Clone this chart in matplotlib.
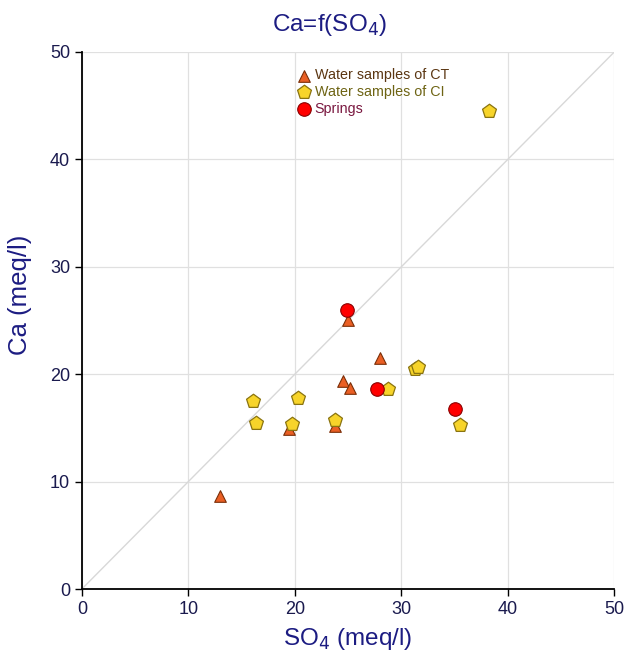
import numpy as np
import matplotlib.pyplot as plt

plt.rcParams['font.family'] = ['Liberation Sans', 'DejaVu Sans']

# CT water samples (triangles)
ct_so4 = [13.0, 19.45, 23.8, 24.5, 25.2, 25.0, 27.95]
ct_ca = [8.7, 14.9, 15.2, 19.4, 18.7, 25.0, 21.5]

# CI water samples (pentagons)
ci_so4 = [16.1, 16.35, 19.7, 20.25, 23.8, 28.7, 31.3, 31.55, 35.5, 38.2]
ci_ca = [17.5, 15.5, 15.4, 17.75, 15.7, 18.6, 20.5, 20.7, 15.3, 44.5]

# springs
sp_so4 = [24.9, 27.7, 35.0]
sp_ca = [26.0, 18.6, 16.8]

navy = '#1c1c82'
ticknavy = '#1a1a4e'

fig = plt.figure(figsize=(6.25, 6.57), dpi=100)
ax = fig.add_axes([0.131, 0.1035, 0.852, 0.8175])

ax.plot([0, 50], [0, 50], color='#d8d8d8', lw=1, zorder=1)

ax.scatter(ct_so4, ct_ca, marker='^', s=70, c='#ea5f24', edgecolors='#7a2e08',
           linewidths=0.8, zorder=3, label='Water samples of CT')
ax.scatter(ci_so4, ci_ca, marker='p', s=110, c='#f7d42a', edgecolors='#8a7410',
           linewidths=0.9, zorder=3, label='Water samples of CI')
ax.scatter(sp_so4, sp_ca, marker='o', s=95, c='#ff0000', edgecolors='#8a0000',
           linewidths=0.8, zorder=4, label='Springs')

ax.set_xlim(0, 50)
ax.set_ylim(0, 50)
ax.set_xticks(np.arange(0, 51, 10))
ax.set_yticks(np.arange(0, 51, 10))
ax.grid(True, color='#e0e0e0', lw=0.9)
ax.set_axisbelow(True)
for s in ['top', 'right']:
    ax.spines[s].set_visible(False)
for s in ['left', 'bottom']:
    ax.spines[s].set_linewidth(1.3)
ax.tick_params(direction='out', length=5, width=1, labelsize=13, labelcolor=ticknavy)

fig.text(0.528, 0.962, 'Ca=f(SO$_4$)', color=navy, fontsize=17.5, ha='center', va='center')
ax.set_xlabel('SO$_4$ (meq/l)', color=navy, fontsize=17.5, labelpad=6)
ax.set_ylabel('Ca (meq/l)', color=navy, fontsize=18.5)
ax.yaxis.set_label_coords(-0.093, 0.547)

leg = ax.legend(loc='upper left', bbox_to_anchor=(0.39, 0.98), frameon=False,
                fontsize=10.3, handletextpad=0.15, labelspacing=0.2,
                borderaxespad=0, handlelength=1.2,
                labelcolor=['#5b3612', '#6e6414', '#7a1840'])

fig.savefig('out.png', dpi=100)
